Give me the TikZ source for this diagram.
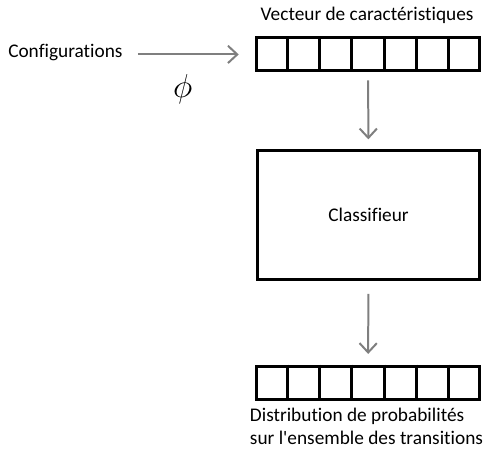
\documentclass[tikz,border=0pt]{standalone}
\usepackage{fontspec}
\setmainfont[Ligatures={NoCommon}]{Carlito}
\usetikzlibrary{arrows.meta,calc}

\tikzset{
  vecbox/.style={draw, line width=2.25pt, minimum width=167pt, minimum height=24.75pt, inner sep=0pt},
  grayarrow/.style={color={rgb, 255:red, 127; green, 127; blue, 127 }, line width=1.5pt, -{Straight Barb[length=7pt,width=13pt]}},
}

\begin{document}
\begin{tikzpicture}[x=0.75pt,y=0.75pt,yscale=-1,xscale=1,font=\fontsize{14.5}{17.25}\selectfont]
\path (0,0) rectangle (484,450);

% Vecteur du haut
\node [vecbox] (vec) at (368.5,54.5) {};
\foreach \i in {1,...,6}
  \draw [line width=2.25pt] ($(vec.north west)!\i/7!(vec.north east)$) -- ($(vec.south west)!\i/7!(vec.south east)$);
% Text Node
\node [inner sep=0.75pt] (veclbl) at (367.5,15) {Vecteur de caractéristiques};
% Text Node
\node [anchor=west, inner sep=0.75pt] (conf) at (7,53) {Configurations};
% Text Node
\node [inner sep=0.75pt] (phi) at (183,89) {\fontsize{27}{30}\selectfont$\phi$};

% Classifieur
\node [draw, line width=2.25pt, minimum width=166.5pt, minimum height=96.75pt] (clf) at (369,215.5) {Classifieur};

% Vecteur du bas
\node [vecbox] (dist) at (368.5,383) {};
\foreach \i in {1,...,6}
  \draw [line width=2.25pt] ($(dist.north west)!\i/7!(dist.north east)$) -- ($(dist.south west)!\i/7!(dist.south east)$);
% Text Node
\node [anchor=north west, inner sep=0.75pt, align=left] (distlbl) at (249,407) {Distribution de probabilités\\sur l\textquotesingle ensemble des transitions};

% Connection
\draw [grayarrow, shorten <=10.5pt, shorten >=12.5pt] (conf.east |- vec.west) -- (vec.west);
% Connection
\draw [grayarrow, shorten <=6pt, shorten >=7.5pt] (vec) -- (clf);
% Connection
\draw [grayarrow, shorten <=9.5pt, shorten >=8pt] (clf) -- (dist);

\end{tikzpicture}
\end{document}
